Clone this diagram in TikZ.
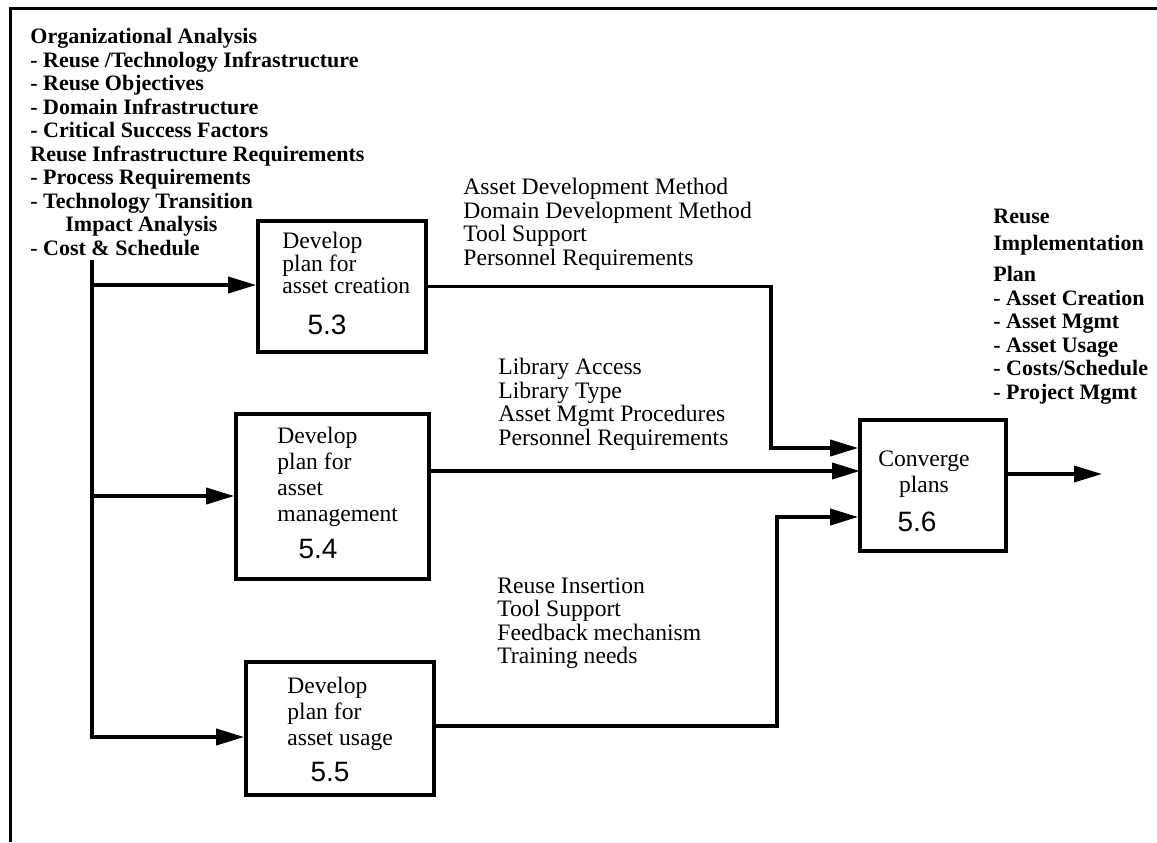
\documentclass[tikz,border=0pt]{standalone}
\usepackage{fontspec}
\setmainfont{Liberation Serif}
\newfontfamily\numfont{Liberation Sans}
\usetikzlibrary{arrows.meta,fit}
\tikzset{
	wire/.style={line width=1.8pt},
	flow/.style={line width=1.8pt, -{Triangle[length=14pt,width=8pt]}},
	framewire/.style={line width=1.5pt},
	planbox/.style={draw, line width=1.8pt, inner sep=0pt},
	itemtext/.style={anchor=north west, inner sep=0pt, align=left, font=\fontsize{11.8}{11.75}\selectfont},
	headtext/.style={itemtext, font=\fontsize{11}{11.75}\selectfont\bfseries},
	boxtext/.style={itemtext, font=\fontsize{11.8}{13}\selectfont},
	numtext/.style={inner sep=0pt, font=\numfont\fontsize{14}{14}\selectfont}
}

\begin{document}
\begin{tikzpicture}[x=0.5pt, y=-0.5pt]
		%%%%% START %%%%%
		\useasboundingbox (0,0) rectangle (1157,842);
		
		\coordinate (fr0) at (1157,8);
		\coordinate (fr1) at (10,8);
		\coordinate (fr2) at (10,842);
		\draw[framewire] (fr0) -- (fr1) -- (fr2);
		
		\node[headtext] (orgreq) at (30,28) {Organizational Analysis\\- Reuse /Technology Infrastructure\\- Reuse Objectives\\- Domain Infrastructure\\- Critical Success Factors\\Reuse Infrastructure Requirements\\- Process Requirements\\- Technology Transition\\\hspace*{17.5pt}Impact Analysis\\- Cost \& Schedule};
		
		\node[planbox, fit={(258,221) (426,352)}] (c53) {};
		\node[boxtext, font=\fontsize{11.8}{11.25}\selectfont] (c53t) at (282,232) {Develop\\plan for\\asset creation};
		\node[numtext] (c53n) at (327,325) {5.3};
		
		\node[planbox, fit={(236,414) (429,579)}] (c54) {};
		\node[boxtext] (c54t) at (277,427) {Develop\\plan for\\asset\\management};
		\node[numtext] (c54n) at (318,549) {5.4};
		
		\node[planbox, fit={(246,662) (434,795)}] (c55) {};
		\node[boxtext] (c55t) at (287,677) {Develop\\plan for\\asset usage};
		\node[numtext] (c55n) at (330,772) {5.5};
		
		\node[planbox, fit={(860,420) (1006,551)}] (c56) {};
		\node[boxtext, anchor=north, align=center] (c56t) at (924,450) {Converge\\plans};
		\node[numtext] (c56n) at (917,522) {5.6};
		
		\node[itemtext] (creatreq) at (463,178) {Asset Development Method\\Domain Development Method\\Tool Support\\Personnel Requirements};
		\node[itemtext] (mgmtreq) at (498,358) {Library Access\\Library Type\\Asset Mgmt Procedures\\Personnel Requirements};
		\node[itemtext] (usagereq) at (497,577) {Reuse Insertion\\Tool Support\\Feedback mechanism\\Training needs};
		\node[headtext] (implplan) at (993,209) {Reuse\\[1.5pt]Implementation\\[4pt]Plan\\- Asset Creation\\- Asset Mgmt\\- Asset Usage\\- Costs/Schedule\\- Project Mgmt};
		
		% inputs
		\coordinate (t0) at (92,260);
		\coordinate (t1) at (92,285);
		\coordinate (t2) at (92,496);
		\coordinate (t3) at (92,737);
		\draw[flow] (t0) |- (c55.west |- t3);
		\draw[flow] (t1) -- (c53.west |- t1);
		\draw[flow] (t2) -- (c54.west |- t2);
		
		% outputs
		\coordinate (j1) at (771,448);
		\coordinate (m2) at (860,471);
		\coordinate (j3) at (777,726);
		\coordinate (j3b) at (777,517);
		\coordinate (outp) at (1102,474);
		\draw[flow] (c53.east) -| (j1) -- (c56.west |- j1);
		\draw[flow] (c54.east |- m2) -- (m2);
		\draw[flow] (c55.east |- j3) -- (j3) -- (j3b) -- (c56.west |- j3b);
		\draw[flow] (c56.east |- outp) -- (outp);
		
		%%%%% END %%%%%
\end{tikzpicture}
\end{document}
